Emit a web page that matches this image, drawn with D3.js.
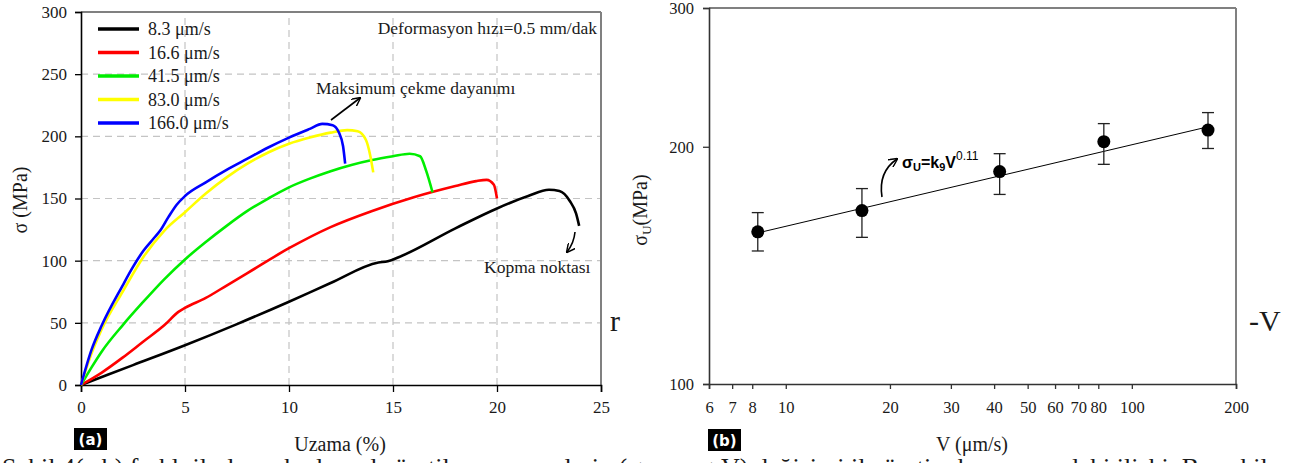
<!DOCTYPE html>
<html><head><meta charset="utf-8">
<script src="https://cdn.jsdelivr.net/npm/d3@7"></script>
<style>
html,body{margin:0;padding:0;background:#fff;overflow:hidden}
svg{display:block}
text{font-family:"Liberation Serif","Times New Roman",serif;fill:#1a1a1a}
</style></head>
<body>
<svg id="c" width="1292" height="463"></svg>
<script>
// ---------- DATA (chart a) ----------
const seriesNames = ["8.3 \u03bcm/s","16.6 \u03bcm/s","41.5 \u03bcm/s","83.0 \u03bcm/s","166.0 \u03bcm/s"];
const seriesColors = ["#000000","#ff0000","#00ee00","#ffff00","#0000ff"];
const strain83  = [0,2.5,5,7.5,10,12,14.3,14.75,15.3,18,20,21.5,22.5,23,23.5,23.8,23.95];
const stress83  = [0,16,32,49,67,82,98.5,99.5,103,126,142,152,157,156,148,138,128];
const strain166 = [0,1,2,3,4,4.7,5,6,7,8,10,12,14,16,18,19,19.5,19.85,20];
const stress166 = [0,10,22,35,48,59,62,70,80,90,110,127,140,151,160,164,165,161,150];
const strain415 = [0,0.5,1,2,3,4,5,6,7,8,9,10,11,12,13,14,15,15.8,16.3,16.6,16.9];
const stress415 = [0,14,27,48,67,85,101,115,128,140,150,159,166,172,177,181,184,186,184,172,155];
const strain830 = [0,0.5,1,2,3,4,5,6,7,8,9,10,11,12,12.8,13.3,13.7,13.9,14.05];
const stress830 = [0,25,45,75,103,124,139,154,167,178,187,194,199,203,205,204,197,185,171];
const strain1660 = [0,0.5,1,2,2.5,3,3.5,3.8,4.2,4.6,5,6,7,8,9,10,11,11.6,12.1,12.4,12.6,12.7];
const stress1660 = [0,28,48,80,95,108,118,124,135,145,152,163,173,182,191,199,206,210,209,203,192,178];
const xTicksA = [0,5,10,15,20,25];
const yTicksA = [0,50,100,150,200,250,300];

// ---------- DATA (chart b) ----------
const speedV = [8.3,16.6,41.5,83.0,166.0];
const sigmaU = [156,166,186,203,210];
const sigmaHi = [165,177,196,214,221];
const sigmaLo = [147.5,153.5,174,190,199];
const fitV = [8.3,166];
const fitSigma = [155.5,212];
const xTicksB = [6,7,8,10,20,30,40,50,60,70,80,100,200];
const yTicksB = [100,200,300];

const svg = d3.select("#c");
const serif = '"Liberation Serif","Times New Roman",serif';

// ---------- arrow marker ----------
const defs = svg.append("defs");
defs.append("marker").attr("id","arr").attr("viewBox","0 0 10 10").attr("refX",9).attr("refY",5)
  .attr("markerWidth",9).attr("markerHeight",9).attr("orient","auto-start-reverse").attr("markerUnits","userSpaceOnUse")
  .append("path").attr("d","M0,0 L10,5 L0,10").attr("fill","none").attr("stroke","#000").attr("stroke-width",1.6);

// ================= CHART A =================
const xA = d3.scaleLinear().domain([0,25]).range([81,601]);
const yA = d3.scaleLinear().domain([0,300]).range([385,12]);
const gA = svg.append("g");

// grid
gA.append("g").selectAll("line").data(xTicksA.filter(d=>d>0&&d<25)).join("line")
  .attr("x1",d=>xA(d)).attr("x2",d=>xA(d)).attr("y1",yA(0)).attr("y2",yA(300))
  .attr("stroke","#c4c4c4").attr("stroke-width",1.2).attr("stroke-dasharray","7,5");
gA.append("g").selectAll("line").data(yTicksA.filter(d=>d>0&&d<300)).join("line")
  .attr("y1",d=>yA(d)).attr("y2",d=>yA(d)).attr("x1",xA(0)).attr("x2",xA(25))
  .attr("stroke","#c4c4c4").attr("stroke-width",1.2).attr("stroke-dasharray","7,5");
// frame (top/right grey)
gA.append("line").attr("x1",xA(0)).attr("x2",xA(25)).attr("y1",yA(300)).attr("y2",yA(300)).attr("stroke","#808080").attr("stroke-width",2);
gA.append("line").attr("x1",xA(25)).attr("x2",xA(25)).attr("y1",yA(300)).attr("y2",yA(0)).attr("stroke","#808080").attr("stroke-width",2);

// axes
const axA_x = gA.append("g").attr("transform",`translate(0,${yA(0)})`)
  .call(d3.axisBottom(xA).tickValues(xTicksA).tickSize(7).tickPadding(9).tickFormat(d3.format("d")));
const axA_y = gA.append("g").attr("transform",`translate(${xA(0)},0)`)
  .call(d3.axisLeft(yA).tickValues(yTicksA).tickSize(6).tickPadding(8).tickFormat(d3.format("d")));
[axA_x,axA_y].forEach(a=>{
  a.select(".domain").attr("stroke","#000").attr("stroke-width",1.6);
  a.selectAll(".tick line").attr("stroke","#000").attr("stroke-width",1.3);
  a.selectAll("text").style("font-family",serif).style("font-size","17px").attr("fill","#1a1a1a");
});

// curves
const seriesX = [strain83,strain166,strain415,strain830,strain1660];
const seriesY = [stress83,stress166,stress415,stress830,stress1660];
const lineA = d3.line().x(d=>xA(d[0])).y(d=>yA(d[1])).curve(d3.curveMonotoneX);
seriesX.forEach((xs,i)=>{
  const pts = xs.map((x,j)=>[x,seriesY[i][j]]);
  gA.append("path").attr("d",lineA(pts)).attr("fill","none").attr("stroke",seriesColors[i])
    .attr("stroke-width",2.6).attr("stroke-linejoin","round");
});

// legend
const leg = gA.append("g");
seriesNames.forEach((n,i)=>{
  const yy = 29 + i*23.5;
  leg.append("line").attr("x1",98).attr("x2",139).attr("y1",yy).attr("y2",yy)
    .attr("stroke",seriesColors[i]).attr("stroke-width",3.5);
  leg.append("text").attr("x",148).attr("y",yy+6).style("font-size","18px").text(n);
});

// annotations
gA.append("text").attr("x",xA(25)-4).attr("y",34).attr("text-anchor","end").style("font-size","17.5px").text("Deformasyon hızı=0.5 mm/dak");
gA.append("text").attr("x",316).attr("y",94).style("font-size","17.5px").text("Maksimum çekme dayanımı");
gA.append("line").attr("x1",331).attr("y1",120).attr("x2",360).attr("y2",98).attr("stroke","#000").attr("stroke-width",1.6).attr("marker-end","url(#arr)");
gA.append("text").attr("x",484).attr("y",273).style("font-size","17.5px").text("Kopma noktası");
gA.append("path").attr("d","M575,232 Q574,243 567,252").attr("fill","none").attr("stroke","#000").attr("stroke-width",1.6).attr("marker-end","url(#arr)");

// axis titles
gA.append("text").attr("transform","translate(27,200) rotate(-90)").attr("text-anchor","middle").style("font-size","20px").text("σ (MPa)");
gA.append("text").attr("x",340).attr("y",451).attr("text-anchor","middle").style("font-size","20px").text("Uzama (%)");
gA.append("rect").attr("x",74).attr("y",428).attr("width",33).attr("height",22).attr("fill","#000");
gA.append("text").attr("x",90.5).attr("y",445).attr("text-anchor","middle").style("font-family","'DejaVu Sans',sans-serif").style("font-size","15px").style("font-weight","bold").style("fill","#fff").text("(a)");

// ================= CHART B =================
const xB = d3.scaleLog().domain([6,200]).range([709,1236]);
const yB = d3.scaleLog().domain([100,300]).range([384,8]);
const gB = svg.append("g");
gB.append("line").attr("x1",xB(6)).attr("x2",xB(200)).attr("y1",yB(300)).attr("y2",yB(300)).attr("stroke","#808080").attr("stroke-width",2);
gB.append("line").attr("x1",xB(200)).attr("x2",xB(200)).attr("y1",yB(300)).attr("y2",yB(100)).attr("stroke","#808080").attr("stroke-width",2);

const axB_x = gB.append("g").attr("transform",`translate(0,${yB(100)})`)
  .call(d3.axisBottom(xB).tickValues(xTicksB).tickSize(5).tickPadding(12).tickFormat(d3.format("d")));
const axB_y = gB.append("g").attr("transform",`translate(${xB(6)},0)`)
  .call(d3.axisLeft(yB).tickValues(yTicksB).tickSize(6).tickPadding(9).tickFormat(d3.format("d")));
[axB_x,axB_y].forEach(a=>{
  a.select(".domain").attr("stroke","#333").attr("stroke-width",1.6);
  a.selectAll(".tick line").attr("stroke","#333").attr("stroke-width",1.3);
  a.selectAll("text").style("font-family",serif).style("font-size","16.5px").attr("fill","#2a2a2a");
});

// fit line
gB.append("line").attr("x1",xB(fitV[0])).attr("y1",yB(fitSigma[0])).attr("x2",xB(fitV[1])).attr("y2",yB(fitSigma[1]))
  .attr("stroke","#000").attr("stroke-width",1);
// error bars
const eb = gB.append("g").attr("stroke","#222").attr("stroke-width",1.3);
speedV.forEach((v,i)=>{
  const cx = xB(v);
  eb.append("line").attr("x1",cx).attr("x2",cx).attr("y1",yB(sigmaLo[i])).attr("y2",yB(sigmaHi[i]));
  eb.append("line").attr("x1",cx-6).attr("x2",cx+6).attr("y1",yB(sigmaLo[i])).attr("y2",yB(sigmaLo[i]));
  eb.append("line").attr("x1",cx-6).attr("x2",cx+6).attr("y1",yB(sigmaHi[i])).attr("y2",yB(sigmaHi[i]));
});
gB.append("g").selectAll("circle").data(speedV).join("circle")
  .attr("cx",d=>xB(d)).attr("cy",(d,i)=>yB(sigmaU[i])).attr("r",6.5).attr("fill","#000");

// equation
const eq = gB.append("text").attr("x",902).attr("y",168).style("font-family","'Liberation Sans',Arial,sans-serif").style("font-weight","bold").style("font-size","16px").style("fill","#000");
eq.append("tspan").text("σ");
eq.append("tspan").attr("dy",3).style("font-size","11px").text("U");
eq.append("tspan").attr("dy",-3).text("=k");
eq.append("tspan").attr("dy",3).style("font-size","11px").text("9");
eq.append("tspan").attr("dy",-3).text("V");
eq.append("tspan").attr("dy",-8).style("font-size","12px").style("font-weight","normal").text("0.11");
gB.append("path").attr("d","M882,197 Q878,172 897,159").attr("fill","none").attr("stroke","#000").attr("stroke-width",1.6).attr("marker-end","url(#arr)");

// axis titles
const yl = gB.append("text").attr("transform","translate(647,210) rotate(-90)").attr("text-anchor","middle").style("font-size","20px");
yl.append("tspan").text("σ");
yl.append("tspan").attr("dy",4).style("font-size","13px").text("U");
yl.append("tspan").attr("dy",-4).text("(MPa)");
gB.append("text").attr("x",972).attr("y",451).attr("text-anchor","middle").style("font-size","20px").text("V (\u03bcm/s)");
gB.append("rect").attr("x",708).attr("y",429).attr("width",33).attr("height",22).attr("fill","#000");
gB.append("text").attr("x",724.5).attr("y",446).attr("text-anchor","middle").style("font-family","'DejaVu Sans',sans-serif").style("font-size","15px").style("font-weight","bold").style("fill","#fff").text("(b)");

// surrounding page text fragments
svg.append("text").attr("x",610).attr("y",331).style("font-size","30px").text("r");
svg.append("text").attr("x",1249).attr("y",331).style("font-size","30px").text("-V");
svg.append("text").attr("x",2).attr("y",476).style("font-size","26px").text("Şekil 4(a,b) farklı ilerleme hızlarında üretilen numunelerin (σ-ε ve σ-V) değişimi ile üretim hızı arasındaki ilişki. Bu şekil");
</script>
</body></html>
